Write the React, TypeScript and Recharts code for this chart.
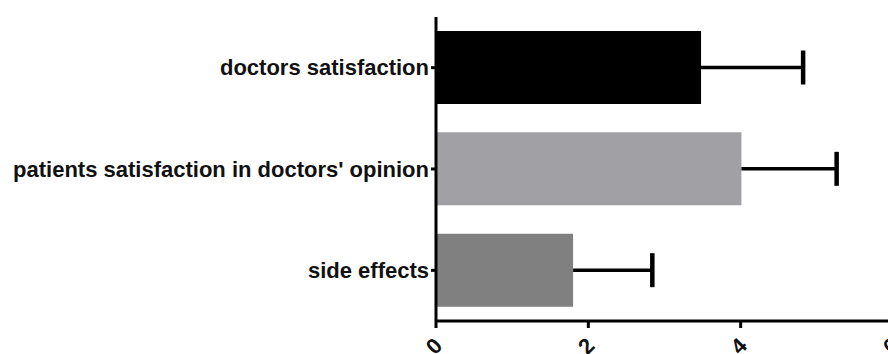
import React from "react";
import { BarChart, Bar, XAxis, YAxis, Cell } from "recharts";

const categories = [
  "doctors satisfaction",
  "patients satisfaction in doctors' opinion",
  "side effects",
];
const means = [3.48, 4.01, 1.8];
const errors = [1.34, 1.25, 1.04];
const barColors = ["#000000", "#a1a0a5", "#808080"];
const xTicks = [0, 2, 4, 6];

const data = categories.map((name, i) => ({
  name,
  value: means[i],
  err: errors[i],
}));

const FONT = "'Liberation Sans', Arial, Helvetica, sans-serif";

const CategoryTick = (props: any) => {
  const { x, y, payload } = props;
  return (
    <text
      x={x}
      y={y}
      textAnchor="end"
      dominantBaseline="central"
      fontFamily={FONT}
      fontWeight="bold"
      fontSize={22}
      fill="#111"
    >
      {payload.value}
    </text>
  );
};

const ValueTick = (props: any) => {
  const { x, y, payload } = props;
  return (
    <text
      transform={`translate(${x - 2}, ${y + 16}) rotate(-45)`}
      textAnchor="middle"
      dominantBaseline="central"
      fontFamily={FONT}
      fontWeight="bold"
      fontSize={22}
      fill="#111"
    >
      {payload.value}
    </text>
  );
};

// One-sided (upper) error whisker, stacked on the end of each mean bar
const Whisker = (props: any) => {
  const { x, y, width, height } = props;
  const cy = y + height / 2;
  const xEnd = x + width;
  return (
    <g>
      <line x1={x} y1={cy} x2={xEnd} y2={cy} stroke="#000" strokeWidth={3.5} />
      <line x1={xEnd} y1={cy - 17} x2={xEnd} y2={cy + 17} stroke="#000" strokeWidth={4.5} />
    </g>
  );
};

export default function App() {
  return (
    <div
      style={{
        position: "absolute",
        left: 0,
        top: 0,
        width: 888,
        height: 354,
        overflow: "hidden",
        background: "#fff",
      }}
    >
      <BarChart
        width={893}
        height={354}
        data={data}
        layout="vertical"
        margin={{ top: 17, right: 0, bottom: 0, left: 0 }}
      >
        <XAxis
          type="number"
          domain={[0, 6]}
          ticks={xTicks}
          axisLine={{ stroke: "#000", strokeWidth: 3 }}
          tickLine={{ stroke: "#000", strokeWidth: 3 }}
          tickSize={7}
          height={33}
          tick={<ValueTick />}
          interval={0}
        />
        <YAxis
          type="category"
          dataKey="name"
          width={436}
          axisLine={{ stroke: "#000", strokeWidth: 3 }}
          tickLine={{ stroke: "#000", strokeWidth: 3 }}
          tickSize={5}
          tickMargin={2}
          tick={<CategoryTick />}
        />
        <Bar dataKey="value" stackId="s" barSize={73} isAnimationActive={false}>
          {data.map((d, i) => (
            <Cell key={d.name} fill={barColors[i]} />
          ))}
        </Bar>
        <Bar
          dataKey="err"
          stackId="s"
          barSize={73}
          shape={<Whisker />}
          isAnimationActive={false}
        />
      </BarChart>
    </div>
  );
}
